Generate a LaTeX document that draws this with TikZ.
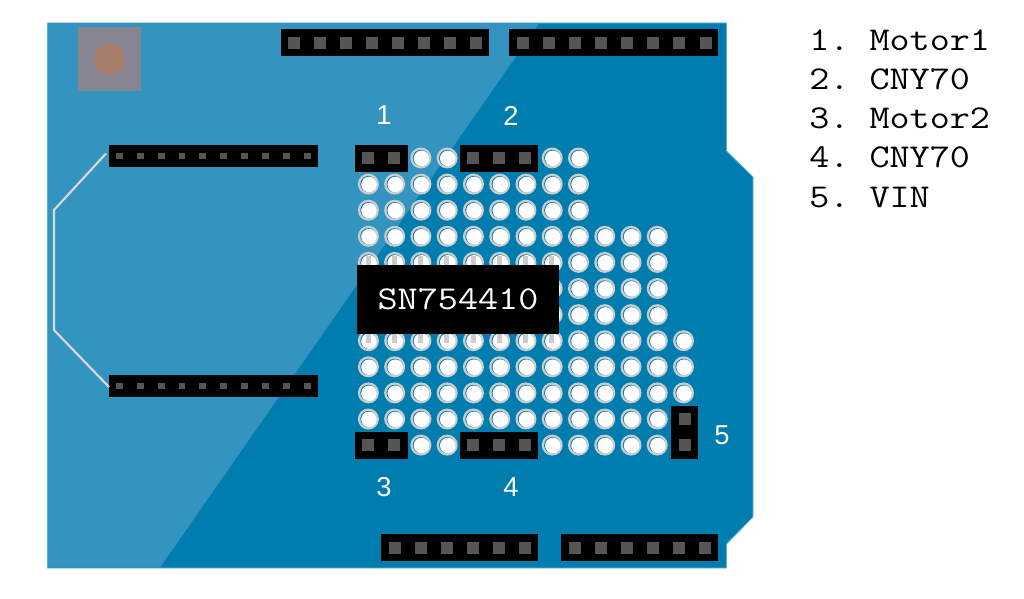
\documentclass[tikz,border=0pt]{standalone}
\usepackage{fontspec}
\setmainfont{Liberation Sans}
\newfontfamily\cour[FakeStretch=1.17]{Latin Modern Mono}
\frenchspacing
\definecolor{boardc}{HTML}{007DAF}
\definecolor{lightc}{HTML}{3395BF}
\definecolor{edgec}{HTML}{66B1CF}
\definecolor{pinc}{HTML}{555555}
\definecolor{ringc}{HTML}{CCCCCC}
\definecolor{tracec}{HTML}{D8D8D8}
\definecolor{btnc}{HTML}{878592}
\definecolor{knobc}{HTML}{A67D68}
\tikzset{
  hdr/.style={fill=black,draw=none,inner sep=0pt,minimum width=#1,minimum height=26.5*0.75pt},
  sidehdr/.style={fill=black,draw=none,inner sep=0pt,minimum width=209*0.75pt,minimum height=21.5*0.75pt},
  pinb/.style={fill=pinc,draw=none,inner sep=0pt,minimum size=9pt},
  pins/.style={fill=pinc,draw=none,inner sep=0pt,minimum size=5.2pt},
  lbl/.style={text=white,inner sep=0pt,font=\fontsize{20.5pt}{24pt}\selectfont},
  legend/.style={text=black,inner sep=0pt,anchor=base west,font=\cour\fontsize{25pt}{30pt}\selectfont},
  trace/.style={draw=tracec,line width=1.6pt,line join=round}
}
\newcommand{\hole}[2]{%
  \fill[ringc] (#1,#2) circle (10.5);
  \fill[boardc] (#1,#2) circle (8.1);
  \fill[white] (#1+0.6,#2+0.4) circle (7.8);
}
\begin{document}
\begin{tikzpicture}[x=0.75pt,y=-0.75pt]
\useasboundingbox (0,0) rectangle (1024,599);
% board
\draw[edgec,line width=0.6pt,fill=boardc] (47.5,23) -- (726.5,23) -- (726.5,151) -- (753,177) -- (753,517) -- (726.5,544) -- (726.5,568) -- (47.5,568) -- cycle;
\fill[lightc] (48,23.5) -- (539,23.5) -- (160,567.5) -- (48,567.5) -- cycle;
% button
\fill[btnc] (77.5,27.5) rectangle (141,91);
\fill[knobc] (109,59) circle (15.5);
% holes
\foreach \y in {184.1,210.2}{\foreach \c in {0,...,8}{\pgfmathsetmacro{\x}{368.4+26.26*\c}\hole{\x}{\y}}}
\foreach \y in {236.3,262.4,288.5,314.6}{\foreach \c in {0,...,11}{\pgfmathsetmacro{\x}{368.4+26.26*\c}\hole{\x}{\y}}}
\foreach \y in {340.7,366.8,392.9}{\foreach \c in {0,...,12}{\pgfmathsetmacro{\x}{368.4+26.26*\c}\hole{\x}{\y}}}
\foreach \c in {0,...,11}{\pgfmathsetmacro{\x}{368.4+26.26*\c}\hole{\x}{419}}
\foreach \c in {2,3,7,8,9,10,11}{\pgfmathsetmacro{\x}{368.4+26.26*\c}\hole{\x}{445.1}}
\foreach \c in {2,3,7,8}{\pgfmathsetmacro{\x}{368.4+26.26*\c}\hole{\x}{158}}
% large headers
\node[hdr=156pt] (top1) at (385,42.7) {};
\foreach \i in {0,...,7}{\node[pinb] (t1p\i) at (293.5+26.1*\i,42.7) {};}
\node[hdr=156.4pt] (top2) at (613.7,42.7) {};
\foreach \i in {0,...,7}{\node[pinb] (t2p\i) at (522.8+26.1*\i,42.7) {};}
\node[hdr=117.4pt] (bot1) at (459.7,547.5) {};
\foreach \i in {0,...,5}{\node[pinb] (b1p\i) at (394.5+26.1*\i,547.5) {};}
\node[hdr=117.4pt] (bot2) at (639.7,547.5) {};
\foreach \i in {0,...,5}{\node[pinb] (b2p\i) at (574.5+26.1*\i,547.5) {};}
% side headers
\node[sidehdr] (sideA) at (213.4,156) {};
\node[sidehdr] (sideB) at (213.4,386) {};
\foreach \i in {0,...,9}{
  \node[pins] (ap\i) at (119.4+20.87*\i,156) {};
  \node[pins] (bp\i) at (119.4+20.87*\i,386) {};
}
% trace
\coordinate (trA) at (106,153.5);
\coordinate (trB) at (109,387);
\draw[trace] (trA) -- (54,210) -- (54,330) -- (trB);
% proto headers
\node[hdr=39.4pt] (h1) at (381.3,158.5) {};
\foreach \i in {0,1}{\node[pinb] (h1p\i) at (368.3+26.1*\i,158.5) {};}
\node[hdr=58.9pt] (h2) at (498.8,158.5) {};
\foreach \i in {0,1,2}{\node[pinb] (h2p\i) at (472.8+26.1*\i,158.5) {};}
\node[hdr=39.4pt] (h3) at (381.3,445.3) {};
\foreach \i in {0,1}{\node[pinb] (h3p\i) at (368.3+26.1*\i,445.3) {};}
\node[hdr=58.9pt] (h4) at (498.8,445.3) {};
\foreach \i in {0,1,2}{\node[pinb] (h4p\i) at (472.8+26.1*\i,445.3) {};}
\node[fill=black,inner sep=0pt,minimum width=19.7pt,minimum height=39.4pt] (h5) at (684.5,432.3) {};
\foreach \i in {0,1}{\node[pinb] (h5p\i) at (684.5,419+26.1*\i) {};}
% chip legs
\foreach \c in {0,...,7}{
  \pgfmathsetmacro{\x}{368.3+26.2*\c}
  \fill[ringc] (\x-2.5,256) rectangle (\x+2.5,266);
  \fill[ringc] (\x-2.5,333) rectangle (\x+2.5,343);
}
% chip
\node[fill=black,inner sep=0pt,minimum width=151.5pt,minimum height=52pt,text=white,font=\cour\fontsize{25pt}{30pt}\selectfont] (chip) at (458,299.5) {SN754410};
% labels
\node[lbl] (n1) at (384,115.5) {1};
\node[lbl] (n2) at (511,115.5) {2};
\node[lbl] (n3) at (384,487.5) {3};
\node[lbl] (n4) at (511,487.5) {4};
\node[lbl] (n5) at (722,435.5) {5};
% legend
\node[legend] (l1) at (809,51) {1. Motor1};
\node[legend] (l2) at (809,90) {2. CNY70};
\node[legend] (l3) at (809,129) {3. Motor2};
\node[legend] (l4) at (809,168) {4. CNY70};
\node[legend] (l5) at (809,207) {5. VIN};
\end{tikzpicture}
\end{document}
